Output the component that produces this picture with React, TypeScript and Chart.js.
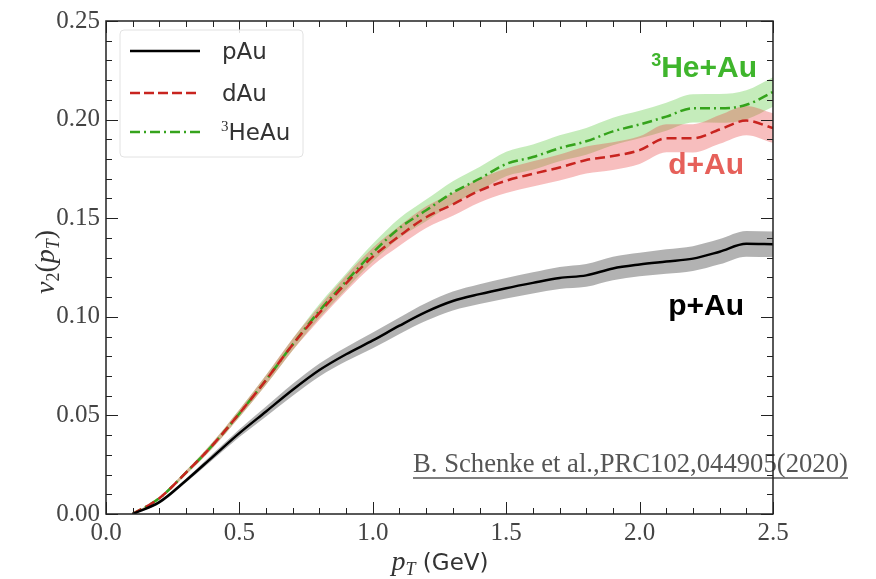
import React, { useEffect, useRef } from "react";
import { Chart, registerables } from "chart.js";
Chart.register(...registerables);

// ---- data ----
const pT = [0.1, 0.2, 0.3, 0.4, 0.5, 0.6, 0.7, 0.8, 0.9, 1.0, 1.1, 1.2, 1.3, 1.4, 1.5, 1.6, 1.7, 1.8, 1.9, 2.0, 2.1, 2.2, 2.3, 2.4, 2.5];
const pAu = [0.0, 0.006, 0.017, 0.029, 0.041, 0.052, 0.063, 0.073, 0.081, 0.088, 0.0955, 0.1025, 0.108, 0.1115, 0.1145, 0.1172, 0.1197, 0.121, 0.1245, 0.1265, 0.128, 0.1295, 0.133, 0.137, 0.1368];
const pAuErr = [0.0, 0.0008, 0.001, 0.0015, 0.002, 0.0025, 0.003, 0.0033, 0.0036, 0.004, 0.0042, 0.0045, 0.0048, 0.005, 0.0052, 0.0054, 0.0056, 0.0058, 0.006, 0.006, 0.0062, 0.0063, 0.0064, 0.0065, 0.0065];
const dAu = [0.0, 0.008, 0.021, 0.035, 0.051, 0.068, 0.086, 0.102, 0.117, 0.1305, 0.141, 0.1505, 0.157, 0.164, 0.169, 0.1725, 0.1757, 0.1795, 0.1815, 0.1845, 0.1905, 0.1905, 0.195, 0.1995, 0.1957];
const dAuErr = [0.0, 0.0008, 0.001, 0.0015, 0.002, 0.0025, 0.003, 0.0035, 0.004, 0.0045, 0.005, 0.0055, 0.0058, 0.006, 0.0062, 0.0064, 0.0066, 0.0068, 0.007, 0.007, 0.0071, 0.0072, 0.0073, 0.0074, 0.0075];
const heAu = [0.0, 0.008, 0.021, 0.035, 0.051, 0.068, 0.086, 0.103, 0.118, 0.1325, 0.145, 0.154, 0.163, 0.17, 0.1775, 0.181, 0.1855, 0.189, 0.194, 0.1975, 0.2015, 0.2057, 0.2057, 0.2075, 0.214];
const heAuErr = [0.0, 0.0008, 0.001, 0.0015, 0.002, 0.0025, 0.003, 0.0035, 0.004, 0.0045, 0.005, 0.0055, 0.0058, 0.006, 0.0062, 0.0064, 0.0066, 0.0068, 0.007, 0.007, 0.0071, 0.0072, 0.0073, 0.0074, 0.0075];

const xTicks = [0.0, 0.5, 1.0, 1.5, 2.0, 2.5];
const yTicks = [0.0, 0.05, 0.1, 0.15, 0.2, 0.25];
const xMinorStep = 0.1;
const yMinorStep = 0.01;
const legendLabels = ["pAu", "dAu", "HeAu"];
const annotationLabels = ["He+Au", "d+Au", "p+Au"];
const citation = "B. Schenke et al.,PRC102,044905(2020)";

const COL_P = "#000000";
const COL_D = "#c8241f";
const COL_HE = "#35a31c";

const pts = (vals: number[], errs?: number[], sign = 0) =>
  pT.map((x, i) => ({ x, y: vals[i] + (errs ? sign * errs[i] : 0) }));

type Piece = { t: string; font: string; dy?: number; color?: string };
function drawRich(ctx: CanvasRenderingContext2D, pieces: Piece[], x: number, y: number, align: "left" | "center" | "right") {
  let total = 0;
  for (const p of pieces) {
    ctx.font = p.font;
    total += ctx.measureText(p.t).width;
  }
  let cx = align === "left" ? x : align === "center" ? x - total / 2 : x - total;
  ctx.textAlign = "left";
  ctx.textBaseline = "alphabetic";
  for (const p of pieces) {
    ctx.font = p.font;
    if (p.color) ctx.fillStyle = p.color;
    ctx.fillText(p.t, cx, y + (p.dy || 0));
    cx += ctx.measureText(p.t).width;
  }
}

const decorPlugin = {
  id: "decor",
  afterDraw(chart: any) {
    const ctx: CanvasRenderingContext2D = chart.ctx;
    const { left, right, top, bottom } = chart.chartArea;
    const xs = chart.scales.x;
    const ys = chart.scales.y;
    ctx.save();

    // citation
    ctx.fillStyle = "#555";
    ctx.font = "26px 'Liberation Serif'";
    const w0 = ctx.measureText(citation).width;
    const fs = (26 * 435) / w0;
    ctx.font = `${fs}px 'Liberation Serif'`;
    ctx.textAlign = "left";
    ctx.textBaseline = "alphabetic";
    ctx.fillText(citation, 413, 472);
    ctx.strokeStyle = "#555";
    ctx.lineWidth = 1.5;
    ctx.beginPath();
    ctx.moveTo(413, 478);
    ctx.lineTo(848, 478);
    ctx.stroke();

    // frame
    ctx.strokeStyle = "#222";
    ctx.lineWidth = 1.5;
    ctx.strokeRect(left, top, right - left, bottom - top);

    // ticks (inward on all sides)
    ctx.lineWidth = 1;
    ctx.beginPath();
    const isMajor = (v: number, arr: number[]) => arr.some((m) => Math.abs(m - v) < 1e-6);
    for (let i = 0; i <= Math.round(2.5 / xMinorStep); i++) {
      const v = i * xMinorStep;
      const px = Math.round(xs.getPixelForValue(v)) + 0.5;
      const len = isMajor(v, xTicks) ? 12 : 6;
      ctx.moveTo(px, bottom);
      ctx.lineTo(px, bottom - len);
      ctx.moveTo(px, top);
      ctx.lineTo(px, top + len);
    }
    for (let i = 0; i <= Math.round(0.25 / yMinorStep); i++) {
      const v = i * yMinorStep;
      const py = Math.round(ys.getPixelForValue(v)) + 0.5;
      const len = isMajor(v, yTicks) ? 12 : 6;
      ctx.moveTo(left, py);
      ctx.lineTo(left + len, py);
      ctx.moveTo(right, py);
      ctx.lineTo(right - len, py);
    }
    ctx.stroke();

    // legend
    const lx = 120, ly = 30, lw = 183, lh = 127;
    ctx.fillStyle = "rgba(255,255,255,0.85)";
    ctx.strokeStyle = "#e2e2e2";
    ctx.lineWidth = 1;
    ctx.beginPath();
    (ctx as any).roundRect ? (ctx as any).roundRect(lx, ly, lw, lh, 4) : ctx.rect(lx, ly, lw, lh);
    ctx.fill();
    ctx.stroke();
    const rows = [51, 93, 132];
    const styles: [string, number[]][] = [
      [COL_P, []],
      [COL_D, [10, 4]],
      [COL_HE, [10, 4, 2, 4]],
    ];
    rows.forEach((ry, i) => {
      ctx.strokeStyle = styles[i][0];
      ctx.setLineDash(styles[i][1]);
      ctx.lineWidth = 2.5;
      ctx.beginPath();
      ctx.moveTo(130, ry);
      ctx.lineTo(200, ry);
      ctx.stroke();
    });
    ctx.setLineDash([]);
    ctx.fillStyle = "#333";
    drawRich(ctx, [{ t: legendLabels[0], font: "23px 'DejaVu Sans'" }], 222, rows[0] + 8, "left");
    drawRich(ctx, [{ t: legendLabels[1], font: "23px 'DejaVu Sans'" }], 222, rows[1] + 8, "left");
    drawRich(
      ctx,
      [
        { t: "3", font: "15px 'Liberation Serif'", dy: -9 },
        { t: legendLabels[2], font: "23px 'DejaVu Sans'" },
      ],
      221,
      rows[2] + 8,
      "left"
    );

    // annotations
    drawRich(
      ctx,
      [
        { t: "3", font: "bold 18px 'Liberation Sans'", dy: -11, color: "#3fb52c" },
        { t: annotationLabels[0], font: "bold 30px 'Liberation Sans'", color: "#3fb52c" },
      ],
      757,
      77,
      "right"
    );
    drawRich(ctx, [{ t: annotationLabels[1], font: "bold 30px 'Liberation Sans'", color: "#e6605a" }], 744, 174, "right");
    drawRich(ctx, [{ t: annotationLabels[2], font: "bold 30px 'Liberation Sans'", color: "#000" }], 744, 315, "right");

    // x title
    ctx.fillStyle = "#333";
    drawRich(
      ctx,
      [
        { t: "p", font: "italic 28px 'Liberation Serif'" },
        { t: "T", font: "italic 18px 'Liberation Serif'", dy: 5 },
        { t: " (GeV)", font: "23px 'DejaVu Sans'" },
      ],
      440,
      570,
      "center"
    );

    // y title
    ctx.translate(46, 262);
    ctx.rotate(-Math.PI / 2);
    drawRich(
      ctx,
      [
        { t: "v", font: "italic 28px 'Liberation Serif'" },
        { t: "2", font: "18px 'Liberation Serif'", dy: 5 },
        { t: "(", font: "28px 'Liberation Serif'" },
        { t: "p", font: "italic 28px 'Liberation Serif'" },
        { t: "T", font: "italic 18px 'Liberation Serif'", dy: 5 },
        { t: ")", font: "28px 'Liberation Serif'" },
      ],
      0,
      8,
      "center"
    );
    ctx.restore();
  },
};

export default function App() {
  const ref = useRef<HTMLCanvasElement | null>(null);
  useEffect(() => {
    if (!ref.current) return;
    const lineBase = { pointRadius: 0, fill: false, cubicInterpolationMode: "monotone" as const, borderWidth: 2.5, order: 0 };
    const bandBase = { pointRadius: 0, borderWidth: 0, cubicInterpolationMode: "monotone" as const, order: 2 };
    const chart = new Chart(ref.current, {
      type: "line",
      data: {
        datasets: [
          { ...lineBase, label: "pAu", data: pts(pAu), borderColor: COL_P },
          { ...lineBase, label: "dAu", data: pts(dAu), borderColor: COL_D, borderDash: [10, 5] },
          { ...lineBase, label: "3HeAu", data: pts(heAu), borderColor: COL_HE, borderDash: [10, 4, 2, 4] },
          { ...bandBase, label: "pAu+", data: pts(pAu, pAuErr, 1), fill: "+1", backgroundColor: "rgba(0,0,0,0.3)", borderColor: "rgba(0,0,0,0)" },
          { ...bandBase, label: "pAu-", data: pts(pAu, pAuErr, -1), fill: false, borderColor: "rgba(0,0,0,0)" },
          { ...bandBase, label: "dAu+", data: pts(dAu, dAuErr, 1), fill: "+1", backgroundColor: "rgba(232,70,70,0.35)", borderColor: "rgba(0,0,0,0)" },
          { ...bandBase, label: "dAu-", data: pts(dAu, dAuErr, -1), fill: false, borderColor: "rgba(0,0,0,0)" },
          { ...bandBase, label: "heAu+", data: pts(heAu, heAuErr, 1), fill: "+1", backgroundColor: "rgba(90,200,60,0.35)", borderColor: "rgba(0,0,0,0)" },
          { ...bandBase, label: "heAu-", data: pts(heAu, heAuErr, -1), fill: false, borderColor: "rgba(0,0,0,0)" },
        ] as any,
      },
      options: {
        animation: false,
        responsive: false,
        maintainAspectRatio: false,
        layout: { padding: { top: 15, right: 103, left: 0, bottom: 0 } },
        plugins: { legend: { display: false }, tooltip: { enabled: false } },
        scales: {
          x: {
            type: "linear",
            min: 0,
            max: 2.5,
            afterBuildTicks: (s: any) => {
              s.ticks = xTicks.map((v) => ({ value: v }));
            },
            afterFit: (s: any) => {
              s.height = 65;
            },
            ticks: {
              callback: (v: any) => Number(v).toFixed(1),
              font: { family: "'Liberation Serif'", size: 25 },
              color: "#444",
              padding: 4,
              maxRotation: 0,
              autoSkip: false,
            },
            grid: { display: false, drawTicks: false },
            border: { display: false },
          },
          y: {
            type: "linear",
            min: 0,
            max: 0.25,
            afterBuildTicks: (s: any) => {
              s.ticks = yTicks.map((v) => ({ value: v }));
            },
            afterFit: (s: any) => {
              s.width = 106;
            },
            ticks: {
              callback: (v: any) => Number(v).toFixed(2),
              font: { family: "'Liberation Serif'", size: 25 },
              color: "#444",
              padding: 6,
              autoSkip: false,
            },
            grid: { display: false, drawTicks: false },
            border: { display: false },
          },
        },
      } as any,
      plugins: [decorPlugin],
    });
    return () => chart.destroy();
  }, []);
  return (
    <div style={{ position: "absolute", left: 0, top: 0, width: 876, height: 579, background: "#fff" }}>
      <canvas ref={ref} width={876} height={579} style={{ display: "block" }} />
    </div>
  );
}
